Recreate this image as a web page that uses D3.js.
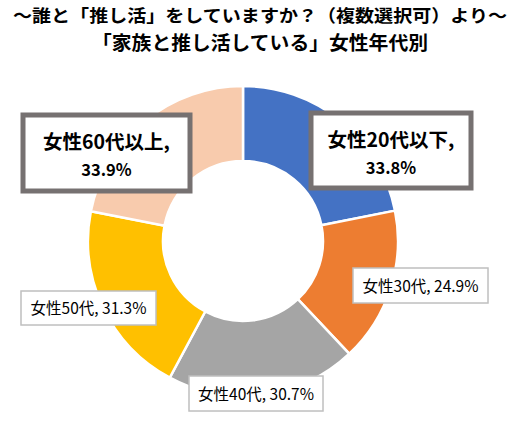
<!DOCTYPE html>
<html>
<head>
<meta charset="utf-8">
<script src="https://cdn.jsdelivr.net/npm/d3@7"></script>
<style>
  body { margin: 0; background: #fff; }
  text { font-family: "Noto Sans CJK JP", "Noto Sans", sans-serif; }
</style>
</head>
<body>
<svg id="chart" width="525" height="424"></svg>
<script>
const titleLines = ['～誰と「推し活」をしていますか？（複数選択可）より～', '「家族と推し活している」女性年代別'];
const categories = ['女性20代以下', '女性30代', '女性40代', '女性50代', '女性60代以上'];
const values = [33.8, 24.9, 30.7, 31.3, 33.9];
const colors = ['#4472C4', '#ED7D31', '#A5A5A5', '#FFC000', '#F8CBAD'];

// title layout: [y, font size, width]
const titleLayout = [[22, 17.5, 494], [49.5, 19, 336]];

// label boxes: [x, y, w, h, emphasised]
const labelBoxes = [
  [311, 113, 160, 75, true],
  [353, 268, 135, 35, false],
  [189, 376, 134, 35, false],
  [21, 291, 135, 34, false],
  [23, 115, 167, 76, true]
];

const center = {x: 243, y: 241};
const outerR = 155, innerR = 80;

function translate(x, y) {
  return `translate(${x}, ${y})`;
};

const svg = d3.select('#chart');

// Title
svg.selectAll('.title').data(titleLines).enter()
  .append('text')
    .attr('class', 'title')
    .attr('x', (d, i) => 260 - titleLayout[i][2] / 2)
    .attr('y', (d, i) => titleLayout[i][0])
    .attr('textLength', (d, i) => titleLayout[i][2])
    .attr('lengthAdjust', 'spacingAndGlyphs')
    .style('font-size', (d, i) => titleLayout[i][1] + 'px')
    .style('font-weight', 'bold')
    .style('fill', '#000')
    .text(d => d);

// Donut
const pie = d3.pie().sort(null).value(d => d);
const arc = d3.arc().innerRadius(innerR).outerRadius(outerR);

const g = svg.append('g').attr('transform', translate(center.x, center.y));
g.selectAll('path').data(pie(values)).enter()
  .append('path')
    .attr('d', arc)
    .style('fill', (d, i) => colors[i])
    .style('stroke', '#fff')
    .style('stroke-width', 2.5);

// Labels
const labels = svg.selectAll('.label').data(categories).enter()
  .append('g')
    .attr('class', 'label')
    .attr('transform', (d, i) => translate(labelBoxes[i][0], labelBoxes[i][1]));

labels.append('rect')
  .attr('width', (d, i) => labelBoxes[i][2])
  .attr('height', (d, i) => labelBoxes[i][3])
  .style('fill', '#fff')
  .style('stroke', (d, i) => labelBoxes[i][4] ? '#767171' : '#BFBFBF')
  .style('stroke-width', (d, i) => labelBoxes[i][4] ? 5 : 1.5);

labels.each(function(d, i) {
  const box = labelBoxes[i];
  const el = d3.select(this);
  if (box[4]) {
    el.append('text')
      .attr('x', box[2] / 2).attr('y', 34)
      .attr('text-anchor', 'middle')
      .style('font-size', '19.5px').style('font-weight', 'bold')
      .text(d + ',');
    el.append('text')
      .attr('x', box[2] / 2).attr('y', 61)
      .attr('text-anchor', 'middle')
      .style('font-size', '16.5px').style('font-weight', 'bold')
      .text(values[i].toFixed(1) + '%');
  } else {
    el.append('text')
      .attr('x', box[2] / 2).attr('y', box[3] / 2 + 6)
      .attr('text-anchor', 'middle')
      .style('font-size', '15.5px')
      .text(`${d}, ${values[i].toFixed(1)}%`);
  }
});
</script>
</body>
</html>
